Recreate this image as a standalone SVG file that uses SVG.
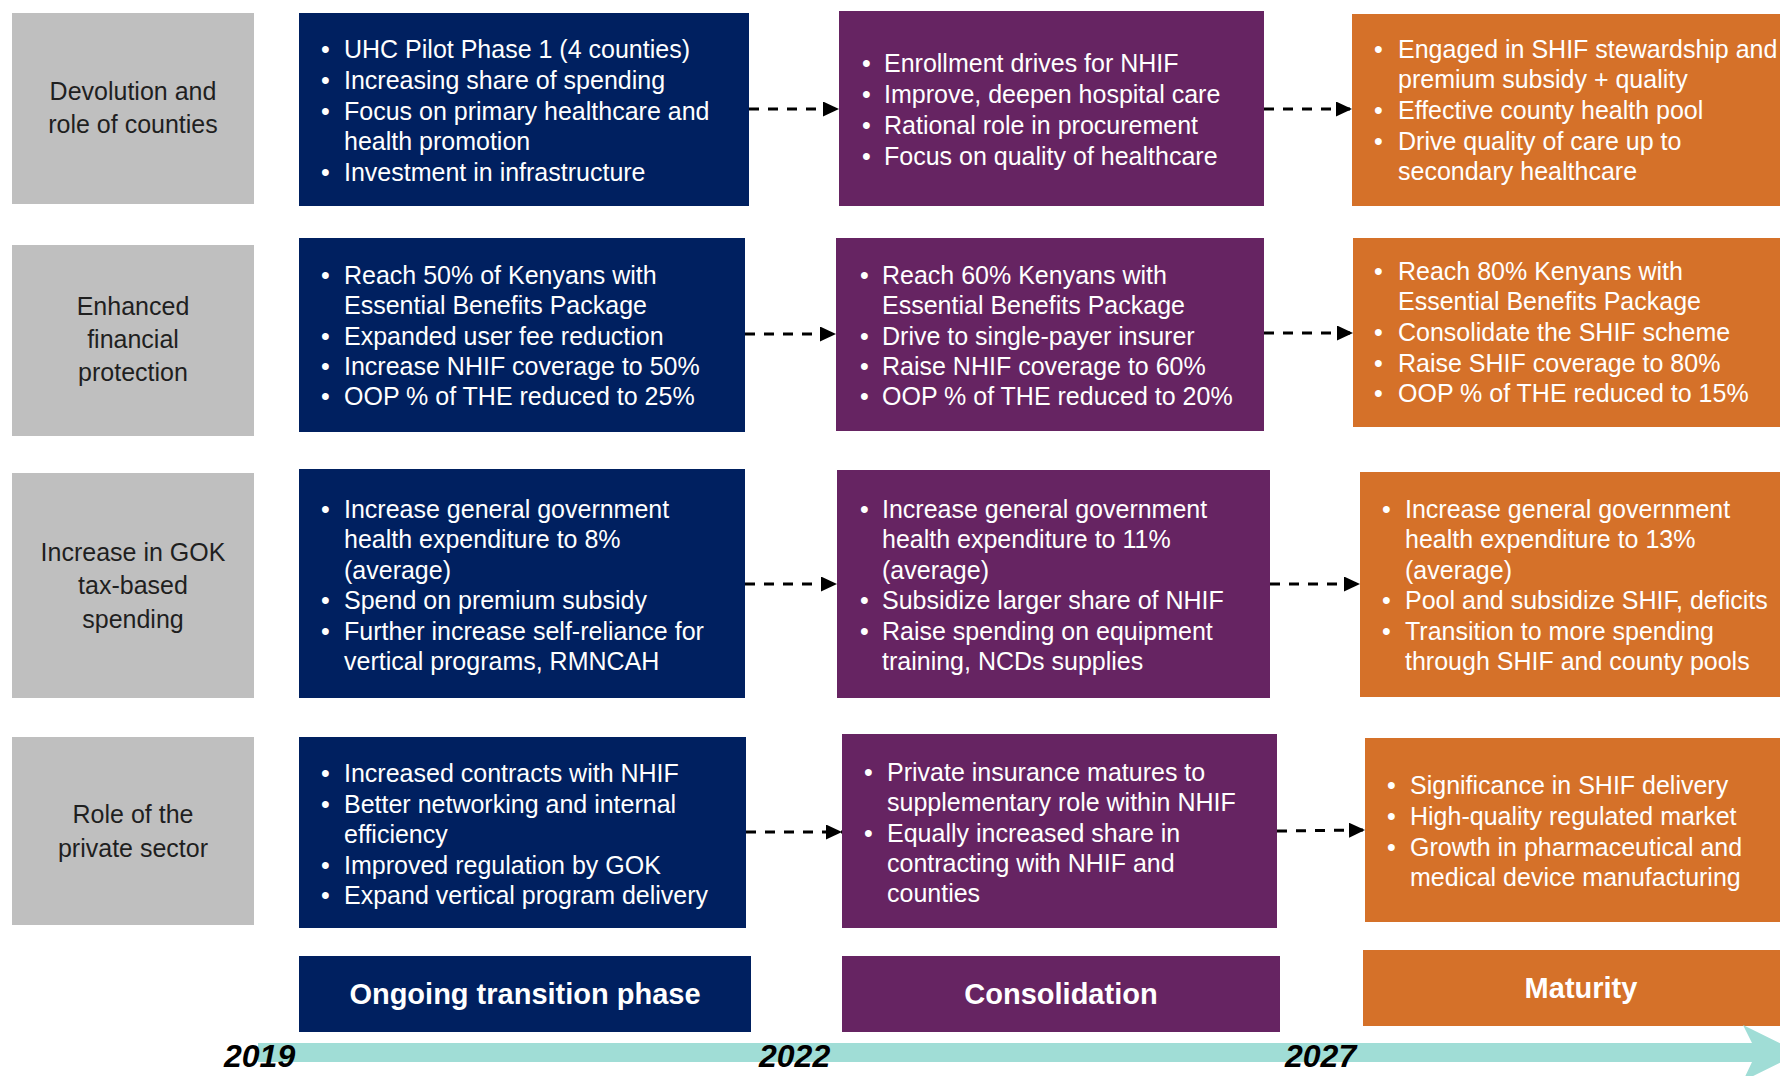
<svg xmlns="http://www.w3.org/2000/svg" width="1780" height="1076" viewBox="0 0 1780 1076">
<style>
.gray{fill:#bfbfbf}
.blue{fill:#002060}
.purple{fill:#662462}
.orange{fill:#d57129}
.lbl{font-family:"Liberation Sans",Arial,sans-serif;font-size:25px;fill:#1f1f1f;text-anchor:middle}
.t{font-family:"Liberation Sans",Arial,sans-serif;font-size:25px;fill:#ffffff}
.b{font-family:"Liberation Sans",Arial,sans-serif;font-size:25px;fill:#ffffff}
.ph{font-family:"Liberation Sans",Arial,sans-serif;font-size:29px;font-weight:bold;fill:#ffffff;text-anchor:middle}
.yr{font-family:"Liberation Sans",Arial,sans-serif;font-size:32px;font-weight:bold;font-style:italic;fill:#000000}
.conn{stroke:#000;stroke-width:3;stroke-dasharray:10 9;fill:none}
</style>
<defs>
<marker id="ah" viewBox="0 0 16 15" refX="16" refY="7.5" markerWidth="16" markerHeight="15" markerUnits="userSpaceOnUse" orient="auto">
<path d="M0,0 L16,7.5 L0,15 Z" fill="#000"/>
</marker>
</defs>
<rect width="1780" height="1076" fill="#ffffff"/>

<!-- Row labels -->
<g id="lbl-devolution">
<rect class="gray" x="12" y="13" width="242" height="191"/>
<text class="lbl" x="133" y="100">Devolution and</text>
<text class="lbl" x="133" y="133">role of counties</text>
</g>
<g id="lbl-financial">
<rect class="gray" x="12" y="245" width="242" height="191"/>
<text class="lbl" x="133" y="315">Enhanced</text>
<text class="lbl" x="133" y="348">financial</text>
<text class="lbl" x="133" y="381">protection</text>
</g>
<g id="lbl-gok">
<rect class="gray" x="12" y="473" width="242" height="225"/>
<text class="lbl" x="133" y="561">Increase in GOK</text>
<text class="lbl" x="133" y="594">tax-based</text>
<text class="lbl" x="133" y="628">spending</text>
</g>
<g id="lbl-private">
<rect class="gray" x="12" y="737" width="242" height="188"/>
<text class="lbl" x="133" y="823">Role of the</text>
<text class="lbl" x="133" y="857">private sector</text>
</g>

<!-- Row 1 -->
<g id="r1-transition">
<rect class="blue" x="299" y="13" width="450" height="193"/>
<text class="b" x="321" y="58">•</text><text class="t" x="344" y="58">UHC Pilot Phase 1 (4 counties)</text>
<text class="b" x="321" y="89">•</text><text class="t" x="344" y="89">Increasing share of spending</text>
<text class="b" x="321" y="120">•</text><text class="t" x="344" y="120">Focus on primary healthcare and</text>
<text class="t" x="344" y="150">health promotion</text>
<text class="b" x="321" y="181">•</text><text class="t" x="344" y="181">Investment in infrastructure</text>
</g>
<g id="r1-consolidation">
<rect class="purple" x="839" y="11" width="425" height="195"/>
<text class="b" x="862" y="72">•</text><text class="t" x="884" y="72">Enrollment drives for NHIF</text>
<text class="b" x="862" y="103">•</text><text class="t" x="884" y="103">Improve, deepen hospital care</text>
<text class="b" x="862" y="134">•</text><text class="t" x="884" y="134">Rational role in procurement</text>
<text class="b" x="862" y="165">•</text><text class="t" x="884" y="165">Focus on quality of healthcare</text>
</g>
<g id="r1-maturity">
<rect class="orange" x="1352" y="14" width="428" height="192"/>
<text class="b" x="1374" y="58">•</text><text class="t" x="1398" y="58">Engaged in SHIF stewardship and</text>
<text class="t" x="1398" y="88">premium subsidy + quality</text>
<text class="b" x="1374" y="119">•</text><text class="t" x="1398" y="119">Effective county health pool</text>
<text class="b" x="1374" y="150">•</text><text class="t" x="1398" y="150">Drive quality of care up to</text>
<text class="t" x="1398" y="180">secondary healthcare</text>
</g>

<!-- Row 2 -->
<g id="r2-transition">
<rect class="blue" x="299" y="238" width="446" height="194"/>
<text class="b" x="321" y="284">•</text><text class="t" x="344" y="284">Reach 50% of Kenyans with</text>
<text class="t" x="344" y="314">Essential Benefits Package</text>
<text class="b" x="321" y="345">•</text><text class="t" x="344" y="345">Expanded user fee reduction</text>
<text class="b" x="321" y="375">•</text><text class="t" x="344" y="375">Increase NHIF coverage to 50%</text>
<text class="b" x="321" y="405">•</text><text class="t" x="344" y="405">OOP % of THE reduced to 25%</text>
</g>
<g id="r2-consolidation">
<rect class="purple" x="836" y="238" width="428" height="193"/>
<text class="b" x="860" y="284">•</text><text class="t" x="882" y="284">Reach 60% Kenyans with</text>
<text class="t" x="882" y="314">Essential Benefits Package</text>
<text class="b" x="860" y="345">•</text><text class="t" x="882" y="345">Drive to single-payer insurer</text>
<text class="b" x="860" y="375">•</text><text class="t" x="882" y="375">Raise NHIF coverage to 60%</text>
<text class="b" x="860" y="405">•</text><text class="t" x="882" y="405">OOP % of THE reduced to 20%</text>
</g>
<g id="r2-maturity">
<rect class="orange" x="1353" y="238" width="427" height="189"/>
<text class="b" x="1374" y="280">•</text><text class="t" x="1398" y="280">Reach 80% Kenyans with</text>
<text class="t" x="1398" y="310">Essential Benefits Package</text>
<text class="b" x="1374" y="341">•</text><text class="t" x="1398" y="341">Consolidate the SHIF scheme</text>
<text class="b" x="1374" y="372">•</text><text class="t" x="1398" y="372">Raise SHIF coverage to 80%</text>
<text class="b" x="1374" y="402">•</text><text class="t" x="1398" y="402">OOP % of THE reduced to 15%</text>
</g>

<!-- Row 3 -->
<g id="r3-transition">
<rect class="blue" x="299" y="469" width="446" height="229"/>
<text class="b" x="321" y="518">•</text><text class="t" x="344" y="518">Increase general government</text>
<text class="t" x="344" y="548">health expenditure to 8%</text>
<text class="t" x="344" y="579">(average)</text>
<text class="b" x="321" y="609">•</text><text class="t" x="344" y="609">Spend on premium subsidy</text>
<text class="b" x="321" y="640">•</text><text class="t" x="344" y="640">Further increase self-reliance for</text>
<text class="t" x="344" y="670">vertical programs, RMNCAH</text>
</g>
<g id="r3-consolidation">
<rect class="purple" x="837" y="470" width="433" height="228"/>
<text class="b" x="860" y="518">•</text><text class="t" x="882" y="518">Increase general government</text>
<text class="t" x="882" y="548">health expenditure to 11%</text>
<text class="t" x="882" y="579">(average)</text>
<text class="b" x="860" y="609">•</text><text class="t" x="882" y="609">Subsidize larger share of NHIF</text>
<text class="b" x="860" y="640">•</text><text class="t" x="882" y="640">Raise spending on equipment</text>
<text class="t" x="882" y="670">training, NCDs supplies</text>
</g>
<g id="r3-maturity">
<rect class="orange" x="1360" y="472" width="420" height="225"/>
<text class="b" x="1382" y="518">•</text><text class="t" x="1405" y="518">Increase general government</text>
<text class="t" x="1405" y="548">health expenditure to 13%</text>
<text class="t" x="1405" y="579">(average)</text>
<text class="b" x="1382" y="609">•</text><text class="t" x="1405" y="609">Pool and subsidize SHIF, deficits</text>
<text class="b" x="1382" y="640">•</text><text class="t" x="1405" y="640">Transition to more spending</text>
<text class="t" x="1405" y="670">through SHIF and county pools</text>
</g>

<!-- Row 4 -->
<g id="r4-transition">
<rect class="blue" x="299" y="737" width="447" height="191"/>
<text class="b" x="321" y="782">•</text><text class="t" x="344" y="782">Increased contracts with NHIF</text>
<text class="b" x="321" y="813">•</text><text class="t" x="344" y="813">Better networking and internal</text>
<text class="t" x="344" y="843">efficiency</text>
<text class="b" x="321" y="874">•</text><text class="t" x="344" y="874">Improved regulation by GOK</text>
<text class="b" x="321" y="904">•</text><text class="t" x="344" y="904">Expand vertical program delivery</text>
</g>
<g id="r4-consolidation">
<rect class="purple" x="842" y="734" width="435" height="194"/>
<text class="b" x="864" y="781">•</text><text class="t" x="887" y="781">Private insurance matures to</text>
<text class="t" x="887" y="811">supplementary role within NHIF</text>
<text class="b" x="864" y="842">•</text><text class="t" x="887" y="842">Equally increased share in</text>
<text class="t" x="887" y="872">contracting with NHIF and</text>
<text class="t" x="887" y="902">counties</text>
</g>
<g id="r4-maturity">
<rect class="orange" x="1365" y="738" width="415" height="184"/>
<text class="b" x="1387" y="794">•</text><text class="t" x="1410" y="794">Significance in SHIF delivery</text>
<text class="b" x="1387" y="825">•</text><text class="t" x="1410" y="825">High-quality regulated market</text>
<text class="b" x="1387" y="856">•</text><text class="t" x="1410" y="856">Growth in pharmaceutical and</text>
<text class="t" x="1410" y="886">medical device manufacturing</text>
</g>

<!-- Phase labels -->
<g id="phase-transition">
<rect class="blue" x="299" y="956" width="452" height="76"/>
<text class="ph" x="525" y="1004">Ongoing transition phase</text>
</g>
<g id="phase-consolidation">
<rect class="purple" x="842" y="956" width="438" height="76"/>
<text class="ph" x="1061" y="1004">Consolidation</text>
</g>
<g id="phase-maturity">
<rect class="orange" x="1363" y="950" width="417" height="76"/>
<text class="ph" x="1581" y="998">Maturity</text>
</g>

<!-- Timeline -->
<g id="timeline">
<polygon points="258,1043 1752,1043 1743,1025 1800,1053 1743,1081 1752,1062 258,1062" fill="#a0ddd6"/>
<text class="yr" x="224" y="1067">2019</text>
<text class="yr" x="759" y="1067">2022</text>
<text class="yr" x="1285" y="1067">2027</text>
</g>

<!-- Connectors -->
<g id="connectors">
<line class="conn" x1="749" y1="109" x2="839" y2="109" marker-end="url(#ah)"/>
<line class="conn" x1="1264" y1="109" x2="1352" y2="109" marker-end="url(#ah)"/>
<line class="conn" x1="745" y1="334" x2="836" y2="334" marker-end="url(#ah)"/>
<line class="conn" x1="1264" y1="333" x2="1353" y2="333" marker-end="url(#ah)"/>
<line class="conn" x1="745" y1="584" x2="837" y2="584" marker-end="url(#ah)"/>
<line class="conn" x1="1270" y1="584" x2="1360" y2="584" marker-end="url(#ah)"/>
<line class="conn" x1="746" y1="832" x2="842" y2="832" marker-end="url(#ah)"/>
<line class="conn" x1="1277" y1="831" x2="1365" y2="830" marker-end="url(#ah)"/>
</g>
</svg>
